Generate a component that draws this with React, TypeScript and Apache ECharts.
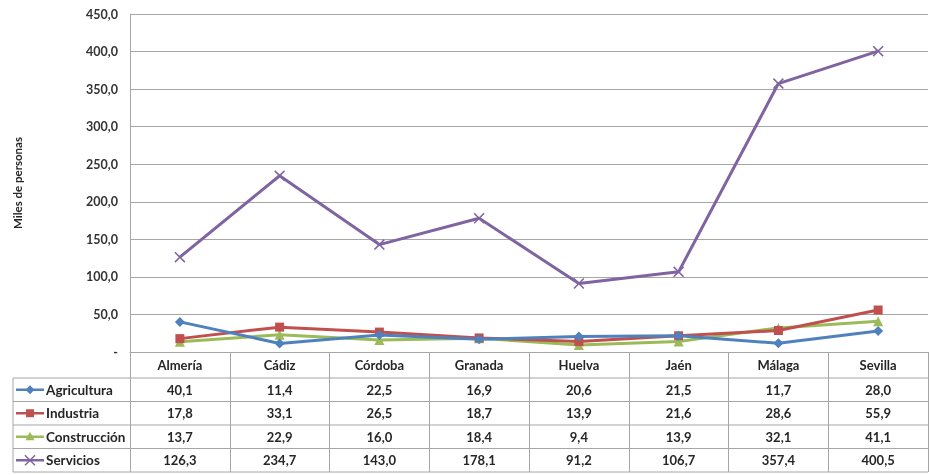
import React, { useEffect, useRef } from "react";
import * as echarts from "echarts";

const categories = ["Almería", "Cádiz", "Córdoba", "Granada", "Huelva", "Jaén", "Málaga", "Sevilla"];
const seriesNames = ["Agricultura", "Industria", "Construcción", "Servicios"];
const agricultura = [40.1, 11.4, 22.5, 16.9, 20.6, 21.5, 11.7, 28.0];
const industria = [17.8, 33.1, 26.5, 18.7, 13.9, 21.6, 28.6, 55.9];
const construccion = [13.7, 22.9, 16.0, 18.4, 9.4, 13.9, 32.1, 41.1];
const servicios = [126.3, 234.7, 143.0, 178.1, 91.2, 106.7, 357.4, 400.5];
const yTicks = [0, 50, 100, 150, 200, 250, 300, 350, 400, 450];

const seriesData = [agricultura, industria, construccion, servicios];
const colors = ["#4F81BD", "#C0504D", "#9BBB59", "#8064A2"];
const symbols = [
  "diamond",
  "rect",
  "triangle",
  "path://M1,0L5,4L9,0L10,1L6,5L10,9L9,10L5,6L1,10L0,9L4,5L0,1Z",
];
const symbolSizes = [10, 9, 10, 11];

const fmt = (v: number) => (v === 0 ? "-" : v.toFixed(1).replace(".", ","));

export default function App() {
  const ref = useRef<HTMLDivElement>(null);
  useEffect(() => {
    if (!ref.current) return;
    const chart = echarts.init(ref.current, null, { renderer: "svg" });
    const W = 930;
    const gridLeft = 130;
    const gridRight = 2;
    const gridTop = 14;
    const axisY = 352;
    const rowLines = [378, 401.5, 425, 448.5, 472];
    const tableLeft = 13;
    const gridColor = "#A6A6A6";
    const font = "Lato, 'Open Sans', sans-serif";
    const textColor = "#262626";
    const tableFont = 13;

    const rowAxes = seriesData.map((arr, r) => {
      const center = (rowLines[r] + rowLines[r + 1]) / 2;
      return {
        type: "category",
        data: categories,
        gridIndex: 0,
        position: "bottom",
        offset: center - 7.5 - axisY,
        axisLine: { show: false },
        axisTick: { show: false },
        axisLabel: {
          margin: 0,
          interval: 0,
          fontFamily: font,
          fontWeight: "bold",
          fontSize: tableFont,
          lineHeight: 15,
          color: textColor,
          formatter: (_v: string, i: number) => fmt(arr[i]),
        },
      };
    });

    const graphics: any[] = [];
    rowLines.forEach((y) => {
      graphics.push({
        type: "line",
        shape: { x1: tableLeft, y1: y, x2: W - gridRight, y2: y },
        style: { stroke: gridColor, lineWidth: 1 },
      });
    });
    graphics.push({
      type: "line",
      shape: { x1: tableLeft, y1: rowLines[0], x2: tableLeft, y2: rowLines[4] },
      style: { stroke: gridColor, lineWidth: 1 },
    });
    seriesNames.forEach((name, r) => {
      const cy = (rowLines[r] + rowLines[r + 1]) / 2;
      const c = colors[r];
      graphics.push({
        type: "line",
        shape: { x1: 16, y1: cy, x2: 44, y2: cy },
        style: { stroke: c, lineWidth: 2.5 },
      });
      const mx = 30;
      if (r === 0) {
        graphics.push({
          type: "polygon",
          shape: { points: [[mx, cy - 4.5], [mx + 4.5, cy], [mx, cy + 4.5], [mx - 4.5, cy]] },
          style: { fill: c },
        });
      } else if (r === 1) {
        graphics.push({ type: "rect", shape: { x: mx - 4, y: cy - 4, width: 8, height: 8 }, style: { fill: c } });
      } else if (r === 2) {
        graphics.push({
          type: "polygon",
          shape: { points: [[mx, cy - 5], [mx + 4.5, cy + 3.5], [mx - 4.5, cy + 3.5]] },
          style: { fill: c },
        });
      } else {
        graphics.push({
          type: "line",
          shape: { x1: mx - 5, y1: cy - 5, x2: mx + 5, y2: cy + 5 },
          style: { stroke: c, lineWidth: 1.5 },
        });
        graphics.push({
          type: "line",
          shape: { x1: mx - 5, y1: cy + 5, x2: mx + 5, y2: cy - 5 },
          style: { stroke: c, lineWidth: 1.5 },
        });
      }
      graphics.push({
        type: "text",
        x: 46,
        y: cy,
        style: {
          text: name,
          fontFamily: font,
          fontWeight: "bold",
          fontSize: 13.5,
          fill: textColor,
          verticalAlign: "middle",
          align: "left",
        },
      });
    });

    chart.setOption({
      animation: false,
      grid: { left: gridLeft, right: gridRight, top: gridTop, bottom: 475 - axisY, containLabel: false },
      graphic: graphics,
      xAxis: [
        {
          type: "category",
          data: categories,
          boundaryGap: true,
          axisLine: { show: true, lineStyle: { color: gridColor, width: 1 } },
          axisTick: { show: true, length: rowLines[4] - axisY, alignWithLabel: false, lineStyle: { color: gridColor } },
          axisLabel: {
            margin: 5.5,
            interval: 0,
            fontFamily: font,
            fontWeight: "bold",
            fontSize: tableFont,
            lineHeight: 15,
            color: textColor,
          },
        },
        ...rowAxes,
      ],
      yAxis: {
        type: "value",
        min: 0,
        max: yTicks[yTicks.length - 1],
        interval: yTicks[1] - yTicks[0],
        name: "Miles de personas",
        nameLocation: "middle",
        nameGap: 107,
        nameRotate: 90,
        nameTextStyle: { fontFamily: font, fontWeight: "bold", fontSize: 11.5, color: textColor },
        axisLine: { show: true, lineStyle: { color: gridColor, width: 1 } },
        axisTick: { show: false },
        splitLine: { show: true, lineStyle: { color: gridColor, width: 1 } },
        axisLabel: {
          margin: 12,
          fontFamily: font,
          fontWeight: "bold",
          fontSize: 12.5,
          color: "#333333",
          formatter: (v: number) => fmt(v),
        },
      },
      series: seriesNames.map((name, i) => ({
        name,
        type: "line",
        data: seriesData[i],
        symbol: symbols[i],
        symbolSize: symbolSizes[i],
        showSymbol: true,
        lineStyle: { color: colors[i], width: 3 },
        itemStyle: { color: colors[i] },
        z: 3 + (3 - i),
      })),
    });
    return () => chart.dispose();
  }, []);
  return <div ref={ref} style={{ position: "fixed", left: 0, top: 0, width: 930, height: 475 }} />;
}
